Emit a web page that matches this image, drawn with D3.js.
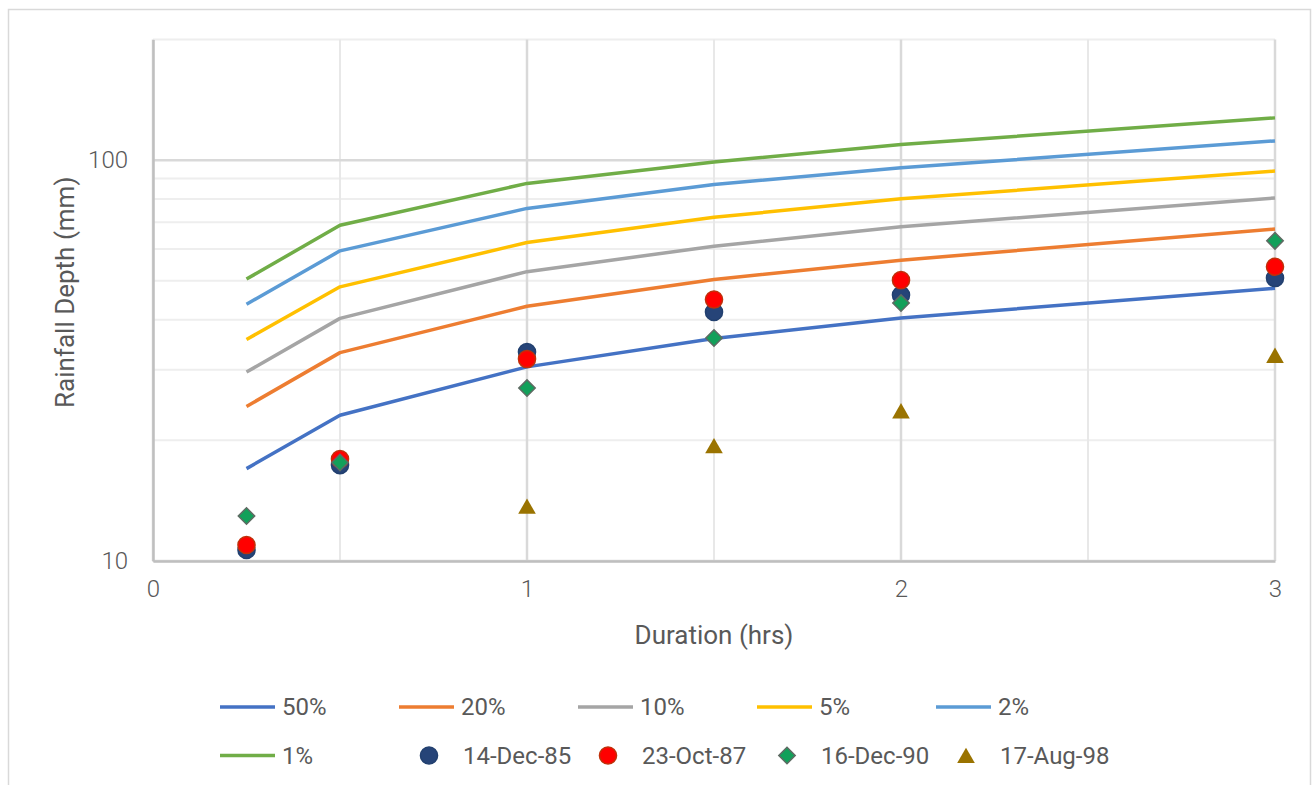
<!DOCTYPE html>
<html>
<head>
<meta charset="utf-8">
<script src="https://cdn.jsdelivr.net/npm/d3@7"></script>
<style>
    body { margin: 0; background: #ffffff; }
    text { font-family: Roboto, "Open Sans", sans-serif; fill: #595959; }
</style>
</head>
<body>
<div id="chart"></div>
<script>
// durations (hrs) where each series is sampled
const durations = [0.25, 0.5, 1, 1.5, 2, 3];

// design curves, rainfall depth (mm) per AEP
const aep50 = [17.0, 23.1, 30.5, 35.9, 40.4, 47.9];
const aep20 = [24.3, 33.1, 43.2, 50.4, 56.3, 67.3];
const aep10 = [29.6, 40.3, 52.7, 61.0, 68.2, 80.5];
const aep5 = [35.7, 48.3, 62.3, 72.0, 80.1, 93.9];
const aep2 = [43.7, 59.4, 75.8, 87.0, 95.7, 111.7];
const aep1 = [50.5, 68.8, 87.5, 99.0, 109.4, 127.5];

// observed storms (null = no value)
const dec85 = [10.65, 17.35, 33.2, 41.8, 46.1, 50.8];
const oct87 = [10.96, 17.96, 31.9, 44.9, 50.2, 54.2];
const dec90 = [12.95, 17.6, 27.0, 36.0, 44.0, 62.9];
const aug98 = [null, null, 13.7, 19.4, 23.7, 32.6];

const curveNames = ["50%", "20%", "10%", "5%", "2%", "1%"];
const eventNames = ["14-Dec-85", "23-Oct-87", "16-Dec-90", "17-Aug-98"];

const xTicks = [0, 1, 2, 3];
const xMinorGrid = [0.5, 1.5, 2.5];
const yTicks = [10, 100];
const yMinorGrid = [20, 30, 40, 50, 60, 70, 80, 90, 200];

const margin = { top: 39.5, right: 37, bottom: 224, left: 153 };
const width = 1312, height = 785;

const curves = [aep50, aep20, aep10, aep5, aep2, aep1].map((vals, i) => ({
    name: curveNames[i],
    color: ["#4472C4", "#ED7D31", "#A5A5A5", "#FFC000", "#5B9BD5", "#70AD47"][i],
    values: vals.map((v, j) => ({ x: durations[j], y: v }))
}));

const events = [dec85, oct87, dec90, aug98].map((vals, i) => ({
    name: eventNames[i],
    kind: ["circle", "circle", "diamond", "triangle"][i],
    fill: ["#264478", "#FF0000", "#12A05A", "#9A7300"][i],
    stroke: ["#22406F", "#C0300A", "#5E6B63", "none"][i],
    values: vals.map((v, j) => ({ x: durations[j], y: v })).filter(d => d.y !== null)
}));

const svg = d3.select("#chart").append("svg")
    .attr("width", width)
    .attr("height", height);

svg.append("rect")
    .attr("x", 8.5).attr("y", 9.5)
    .attr("width", 1302).attr("height", 780)
    .attr("fill", "#ffffff")
    .attr("stroke", "#D9D9D9")
    .attr("stroke-width", 1.5);

const x = d3.scaleLinear()
    .domain([0, 3])
    .range([margin.left, width - margin.right]);

const y = d3.scaleLog()
    .domain([10, 200])
    .range([height - margin.bottom, margin.top]);

const plot = svg.append("g");

// gridlines
plot.selectAll(".hminor")
    .data(yMinorGrid)
    .join("line")
    .attr("x1", x(0)).attr("x2", x(3))
    .attr("y1", d => y(d)).attr("y2", d => y(d))
    .attr("stroke", "#EEEEEE")
    .attr("stroke-width", 2);

plot.selectAll(".vminor")
    .data(xMinorGrid)
    .join("line")
    .attr("x1", d => x(d)).attr("x2", d => x(d))
    .attr("y1", y(10)).attr("y2", y(200))
    .attr("stroke", "#E8E8E8")
    .attr("stroke-width", 2);

plot.selectAll(".hmajor")
    .data(yTicks)
    .join("line")
    .attr("x1", x(0)).attr("x2", x(3))
    .attr("y1", d => y(d)).attr("y2", d => y(d))
    .attr("stroke", "#D9D9D9")
    .attr("stroke-width", 2.5);

plot.selectAll(".vmajor")
    .data(xTicks)
    .join("line")
    .attr("x1", d => x(d)).attr("x2", d => x(d))
    .attr("y1", y(10)).attr("y2", y(200))
    .attr("stroke", "#D9D9D9")
    .attr("stroke-width", 2.5);

// axes
const xAxis = d3.axisBottom(x).tickValues(xTicks).tickSize(0).tickPadding(19)
    .tickFormat(d3.format("d"));
const yAxis = d3.axisLeft(y).tickValues(yTicks).tickSize(0).tickPadding(25)
    .tickFormat(d3.format("d"));

const xAxisGroup = svg.append("g")
    .attr("transform", `translate(0, ${y(10)})`)
    .call(xAxis);
const yAxisGroup = svg.append("g")
    .attr("transform", `translate(${x(0)}, 0)`)
    .call(yAxis);

[xAxisGroup, yAxisGroup].forEach(g => {
    g.select(".domain").attr("stroke", "#BFBFBF").attr("stroke-width", 2.5);
    g.selectAll("text").attr("font-size", 24).attr("fill", "#595959")
        .style("font-family", "Roboto, sans-serif")
        .style("font-weight", 300);
});

// curves
const line = d3.line()
    .x(d => x(d.x))
    .y(d => y(d.y));

plot.selectAll(".curve")
    .data(curves)
    .join("path")
    .attr("class", "curve")
    .attr("d", d => line(d.values))
    .attr("fill", "none")
    .attr("stroke", d => d.color)
    .attr("stroke-width", 3.5)
    .attr("stroke-linejoin", "round");

// markers
function markerPath(kind) {
    if (kind === "circle") return d3.symbol(d3.symbolCircle, 230)();
    if (kind === "diamond") return d3.symbol(d3.symbolSquare, 135)();
    return d3.symbol(d3.symbolTriangle, 135)();
}
function markerTransform(kind, cx, cy) {
    if (kind === "diamond") return `translate(${cx},${cy}) rotate(45)`;
    if (kind === "triangle") return `translate(${cx},${cy + 2.5})`;
    return `translate(${cx},${cy})`;
}

events.forEach(ev => {
    plot.append("g")
        .selectAll("path")
        .data(ev.values)
        .join("path")
        .attr("d", markerPath(ev.kind))
        .attr("transform", d => markerTransform(ev.kind, x(d.x), y(d.y)))
        .attr("fill", ev.fill)
        .attr("stroke", ev.stroke)
        .attr("stroke-width", 1.5);
});

// axis titles
svg.append("text")
    .attr("x", x(1.5)).attr("y", 644)
    .attr("text-anchor", "middle")
    .attr("font-size", 26)
    .text("Duration (hrs)");

svg.append("text")
    .attr("transform", `translate(74, ${(y(10) + y(200)) / 2 - 8}) rotate(-90)`)
    .attr("text-anchor", "middle")
    .attr("font-size", 26)
    .text("Rainfall Depth (mm)");

// legend
const legendItems = curves.map(c => ({ name: c.name, type: "line", color: c.color }))
    .concat(events.map(e => ({ name: e.name, type: e.kind, fill: e.fill, stroke: e.stroke })));

const legend = svg.append("g");
const colW = 179, rowH = 48.5;

legendItems.forEach((item, i) => {
    const col = i % 5, row = Math.floor(i / 5);
    const g = legend.append("g")
        .attr("transform", `translate(${220 + col * colW}, ${707 + row * rowH})`);
    if (item.type === "line") {
        g.append("line")
            .attr("x1", 0).attr("x2", 55)
            .attr("stroke", item.color)
            .attr("stroke-width", 3.5);
    } else {
        g.append("path")
            .attr("d", markerPath(item.type))
            .attr("transform", markerTransform(item.type, 30, 0))
            .attr("fill", item.fill)
            .attr("stroke", item.stroke)
            .attr("stroke-width", 1.5);
    }
    g.append("text")
        .attr("x", item.type === "line" ? 62 : 64)
        .attr("y", 0)
        .attr("dy", "0.35em")
        .attr("font-size", 24)
        .text(item.name);
});
</script>
</body>
</html>
